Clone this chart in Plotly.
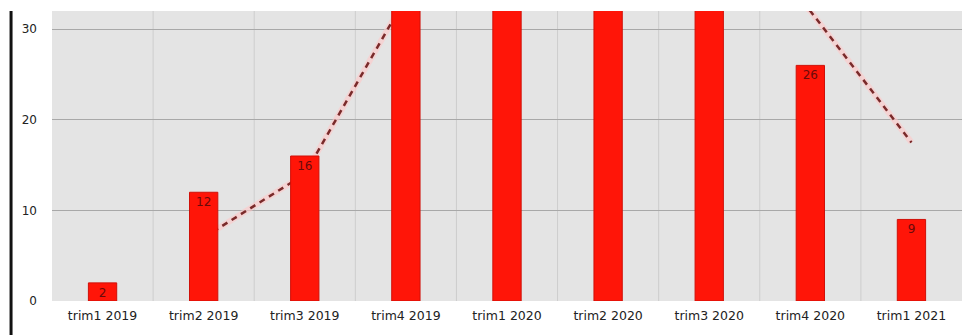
import plotly.graph_objects as go
import pandas as pd

# Quarterly counts
quarters = ["trim1 2019", "trim2 2019", "trim3 2019", "trim4 2019", "trim1 2020",
            "trim2 2020", "trim3 2020", "trim4 2020", "trim1 2021"]
counts = [2, 12, 16, 51, 34, 45, 38, 26, 9]

# Two-period moving average trend
trend = pd.Series(counts).rolling(2).mean().tolist()

y_ticks = [0, 10, 20, 30]
y_max = 32

# Value labels only where the bar top lies inside the visible range
labels = [str(v) if v <= y_max else "" for v in counts]

fig = go.Figure()

# Trend line sits on the base axis so the bars (overlay axis) draw on top of it
fig.add_trace(go.Scatter(
    x=quarters, y=trend, mode="lines", yaxis="y",
    line=dict(color="rgba(255,200,200,0.6)", width=6),
    hoverinfo="skip", showlegend=False,
))
fig.add_trace(go.Scatter(
    x=quarters, y=trend, mode="lines", yaxis="y",
    line=dict(color="#7a2a2a", width=2.5, dash="6px,5px"),
    showlegend=False,
))
fig.add_trace(go.Bar(
    x=quarters, y=counts, width=0.28, yaxis="y2",
    marker=dict(color="#ff1508", line=dict(color="#d01008", width=1)),
    text=labels, textposition="inside",
    insidetextanchor="end", constraintext="none", textangle=0,
    textfont=dict(family="DejaVu Sans", size=12, color="#6a0a0a"),
    showlegend=False,
))

fig.update_layout(
    width=973, height=335,
    margin=dict(l=52, r=11, t=11, b=34),
    paper_bgcolor="white",
    plot_bgcolor="#e4e4e4",
    font=dict(family="DejaVu Sans", size=12, color="#222"),
    bargap=0.7,
    shapes=[dict(type="line", xref="paper", yref="paper",
                 x0=-0.045, x1=-0.045, y0=1.0, y1=-0.12,
                 line=dict(color="#111", width=3))],
    yaxis=dict(
        range=[0, y_max], tickvals=y_ticks,
        showgrid=True, gridcolor="#a8a8a8", gridwidth=1,
        zeroline=False, showline=False,
        ticks="", ticklabelstandoff=14,
        tickfont=dict(size=12, color="#222"),
    ),
    yaxis2=dict(
        range=[0, y_max], overlaying="y", side="left",
        showgrid=False, zeroline=False, showline=False,
        showticklabels=False, ticks="",
    ),
)
fig.update_xaxes(
    showgrid=False, showline=False, zeroline=False,
    tickfont=dict(size=12.5, color="#222"),
    ticks="", ticklabelstandoff=5,
)
for i in range(1, len(quarters)):
    fig.add_vline(x=i - 0.5, line=dict(color="#cdcdcd", width=1), layer="below")

fig.write_html("out.html")
